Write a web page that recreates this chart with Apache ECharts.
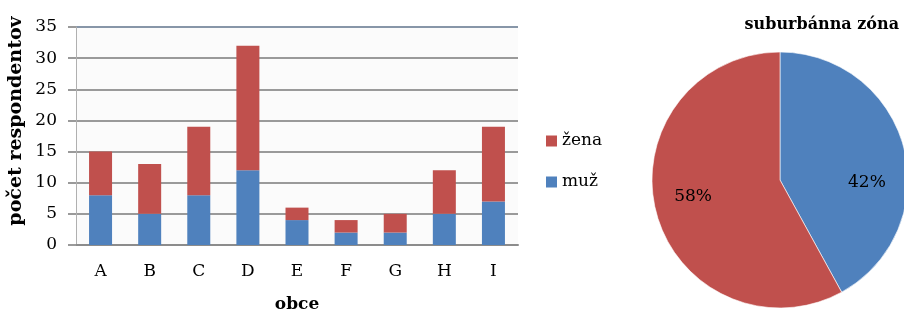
<!DOCTYPE html>
<html>
<head>
<meta charset="utf-8">
<script src="https://cdn.jsdelivr.net/npm/echarts@6/dist/echarts.min.js"></script>
<style>
html,body{margin:0;padding:0;background:#fff;}
#main{width:904px;height:310px;}
</style>
</head>
<body>
<div id="main"></div>
<script>
// obce
var obce = ['A','B','C','D','E','F','G','H','I'];
// muž / žena po obciach
var muz  = [8, 5, 8, 12, 4, 2, 2, 5, 7];
var zena = [7, 8, 11, 20, 2, 2, 3, 7, 12];
// osi
var yMax = 35;
var yStep = 5;
// suburbánna zóna - podiel
var pieNames = ['muž','žena'];
var pieValues = [42, 58];

var blue = '#4F81BD';
var red = '#C0504D';
var serif = '"DejaVu Serif","Liberation Serif",serif';
// farby mriežky, posledná (35) je modrošedá
var gridColors = ['#9a9a9a','#9a9a9a','#9a9a9a','#9a9a9a','#9a9a9a','#9a9a9a','#9a9a9a','#8796a8'];

var myChart = echarts.init(document.getElementById('main'));
var option = {
	animation: false,
	backgroundColor: '#fff',
	textStyle: { fontFamily: serif, color: '#000' },
	title: {
		text: 'suburbánna zóna',
		right: 0,
		top: 12,
		textStyle: { fontFamily: serif, fontWeight: 'bold', fontSize: 16, color: '#000' }
	},
	legend: {
		data: ['žena','muž'],
		orient: 'vertical',
		left: 546,
		top: 132,
		padding: 0,
		itemWidth: 11,
		itemHeight: 11,
		itemGap: 23,
		icon: 'rect',
		textStyle: { fontFamily: serif, fontSize: 17, lineHeight: 18, color: '#000' }
	},
	grid: {
		left: 76,
		right: 386,
		top: 27,
		bottom: 65,
		outerBoundsMode: 'none',
		containLabel: false,
		show: true,
		backgroundColor: '#fbfbfb',
		borderWidth: 0
	},
	xAxis: {
		type: 'category',
		data: obce,
		name: 'obce',
		nameLocation: 'middle',
		nameGap: 51,
		nameTextStyle: { fontFamily: serif, fontWeight: 'bold', fontSize: 17, color: '#000' },
		axisLine: { lineStyle: { color: '#8c8c8c', width: 2 } },
		axisTick: { length: 7, lineStyle: { color: '#8c8c8c', width: 2 } },
		axisLabel: { fontFamily: serif, fontSize: 17, color: '#000', margin: 18 }
	},
	yAxis: {
		type: 'value',
		min: 0,
		max: yMax,
		interval: yStep,
		name: 'počet respondentov',
		nameLocation: 'middle',
		nameGap: 50,
		nameTextStyle: { fontFamily: serif, fontWeight: 'bold', fontSize: 19, color: '#000', padding: [0, 0, 0, 30] },
		axisLine: { show: true, lineStyle: { color: '#b0b0b0', width: 1 } },
		axisTick: { show: true, length: 8, lineStyle: { color: '#9a9a9a', width: 2 } },
		splitLine: { lineStyle: { color: gridColors, width: 2 } },
		axisLabel: { fontFamily: serif, fontSize: 17, color: '#000', margin: 19 }
	},
	series: [
		{
			name: 'muž',
			type: 'bar',
			stack: 'spolu',
			barWidth: 23,
			itemStyle: { color: blue },
			data: muz
		},
		{
			name: 'žena',
			type: 'bar',
			stack: 'spolu',
			barWidth: 23,
			itemStyle: { color: red },
			data: zena
		},
		{
			name: 'suburbánna zóna',
			type: 'pie',
			center: [780, 180],
			radius: 128,
			startAngle: 90,
			clockwise: true,
			silent: true,
			itemStyle: { borderColor: '#fff', borderWidth: 0.6 },
			label: {
				position: 'inside',
				formatter: '{d}%',
				fontFamily: serif,
				fontSize: 17,
				lineHeight: 19,
				color: '#000'
			},
			labelLine: { show: false },
			data: [
				{ name: pieNames[0], value: pieValues[0], itemStyle: { color: blue }, label: { formatter: '\n\n{d}%', padding: [0, 0, 0, 44] } },
				{ name: pieNames[1], value: pieValues[1], itemStyle: { color: red }, label: { padding: [0, 44, 0, 0] } }
			]
		}
	]
};
myChart.setOption(option);
</script>
</body>
</html>
